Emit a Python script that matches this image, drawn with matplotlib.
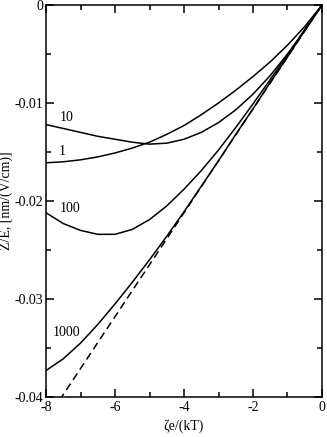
import matplotlib
matplotlib.use("Agg")
import matplotlib.pyplot as plt
from matplotlib.ticker import MultipleLocator, FuncFormatter

plt.rcParams["font.family"] = ["Liberation Serif", "DejaVu Serif"]

# zeta potential, in units of kT/e
zeta = [-8, -7.5, -7, -6.5, -6, -5.5, -5, -4.5, -4,
        -3.5, -3, -2.5, -2, -1.5, -1, -0.5, 0]

# Z/E for each kappa*a
ze_1 = [-0.0161, -0.0160, -0.0158, -0.0155, -0.0151, -0.0146, -0.0140, -0.0132, -0.0123,
        -0.0112, -0.0100, -0.0087, -0.0073, -0.0058, -0.0041, -0.0022, 0.0]
ze_10 = [-0.0122, -0.0126, -0.0130, -0.0134, -0.0137, -0.0140, -0.0142, -0.0141, -0.0137,
         -0.0130, -0.0120, -0.0107, -0.0091, -0.0072, -0.0050, -0.0026, 0.0]
ze_100 = [-0.0212, -0.0223, -0.0230, -0.0234, -0.0234, -0.0229, -0.0219, -0.0205, -0.0188,
          -0.0169, -0.0148, -0.0125, -0.0101, -0.0076, -0.0051, -0.0025, 0.0]
ze_1000 = [-0.0373, -0.0361, -0.0345, -0.0326, -0.0305, -0.0283, -0.0260, -0.0236, -0.0211,
           -0.0185, -0.0159, -0.0132, -0.0106, -0.0079, -0.0053, -0.0026, 0.0]

# Smoluchowski limit
smol_x = [-8, 0]
smol_y = [-0.0424, 0.0]

curve_labels = ["1", "10", "100", "1000"]
label_x = [-7.62, -7.6, -7.6, -7.8]
label_y = [-0.0150, -0.01143, -0.0208, -0.0334]

fig = plt.figure(figsize=(3.27, 4.37), dpi=100)
ax = fig.add_axes([0.1407, 0.0915, 0.844, 0.8971])

for ys in [ze_1, ze_10, ze_100, ze_1000]:
    ax.plot(zeta, ys, color="black", lw=1.1)
ax.plot(smol_x, smol_y, color="black", lw=1.1, ls=(0, (5, 3)))

for t, x, y in zip(curve_labels, label_x, label_y):
    ax.text(x, y, t, fontsize=10, ha="left", va="center")

ax.set_xlim(-8, 0)
ax.set_ylim(-0.04, 0)
ax.xaxis.set_major_locator(MultipleLocator(2))
ax.xaxis.set_minor_locator(MultipleLocator(1))
ax.yaxis.set_major_locator(MultipleLocator(0.01))
ax.yaxis.set_minor_locator(MultipleLocator(0.005))

ax.xaxis.set_major_formatter(FuncFormatter(lambda v, p: "%g" % v if v != 0 else "0"))
ax.yaxis.set_major_formatter(FuncFormatter(lambda v, p: "%g" % round(v, 3) if abs(v) > 1e-9 else "0"))

ax.tick_params(which="both", direction="in", top=True, right=True, labelsize=10, width=1.1, pad=2)
ax.tick_params(axis="x", which="major", pad=3)
ax.tick_params(which="major", length=5.5)
ax.tick_params(which="minor", length=3.5)
for s in ax.spines.values():
    s.set_linewidth(1.1)

ax.set_xlabel("ζe/(kT)", fontsize=10, labelpad=4)
ax.set_ylabel("Z/E, [nm/(V/cm)]", fontsize=10)
ax.yaxis.set_label_coords(-0.12, 0.5)

fig.savefig("out.png", dpi=100)
